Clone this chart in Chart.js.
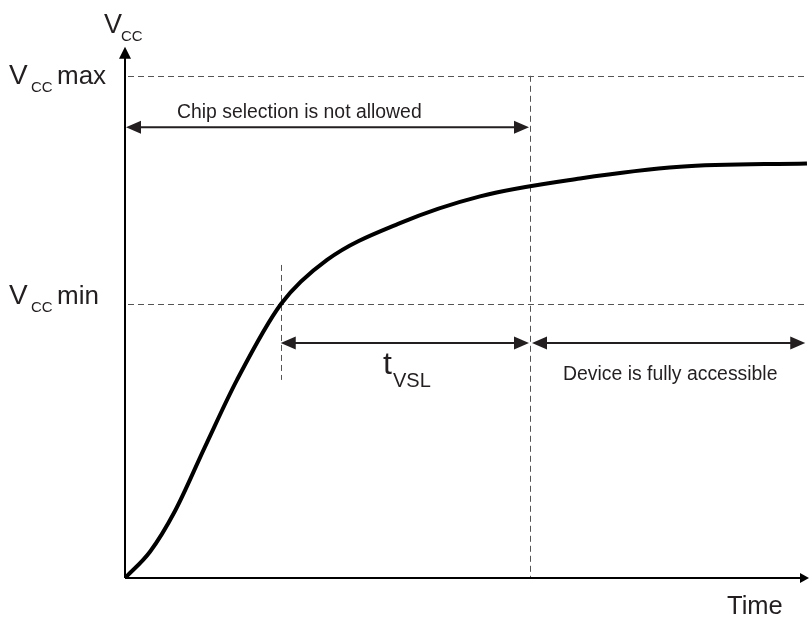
<!DOCTYPE html>
<html>
<head>
<meta charset="utf-8">
<script src="https://cdn.jsdelivr.net/npm/chart.js@4.4.1/dist/chart.umd.min.js"></script>
<style>
  html, body { margin: 0; padding: 0; background: #fff; }
  canvas { display: block; }
</style>
</head>
<body>
<canvas id="vccChart" width="809" height="617"></canvas>
<script>
// power-up curve (time and Vcc in arbitrary units)
const timeValues = [0, 0.366, 0.732, 1.171, 1.640, 2.284, 2.958, 4.026, 5.198, 6.662, 8.126, 9.985];
const vccValues = [0, 0.47, 1.20, 2.35, 3.55, 4.91, 5.70, 6.36, 6.84, 7.16, 7.37, 7.43];

// reference levels and markers
const vccMax = 9.0;
const vccMin = 4.91;
const tVslStart = 2.28;
const tVslEnd = 5.93;
const timeEnd = 9.96;
const chipArrowLevel = 8.08;
const tVslArrowLevel = 4.21;
const tickTop = 5.61;
const tickBottom = 3.55;
const yAxisTop = 9.52;

const INK = "#231f20";
const FONT = "'Liberation Sans', Arial, sans-serif";

function arrowHead(ctx, x, y, dir, len, half) {
    // dir: "left", "right", "up"
    ctx.beginPath();
    if (dir === "right") {
        ctx.moveTo(x, y);
        ctx.lineTo(x - len, y - half);
        ctx.lineTo(x - len, y + half);
    } else if (dir === "left") {
        ctx.moveTo(x, y);
        ctx.lineTo(x + len, y - half);
        ctx.lineTo(x + len, y + half);
    } else {
        ctx.moveTo(x, y);
        ctx.lineTo(x - half, y + len);
        ctx.lineTo(x + half, y + len);
    }
    ctx.closePath();
    ctx.fill();
}

function dimArrow(ctx, x1, x2, y) {
    ctx.strokeStyle = INK;
    ctx.fillStyle = INK;
    ctx.lineWidth = 2;
    ctx.beginPath();
    ctx.moveTo(x1 + 6, y);
    ctx.lineTo(x2 - 6, y);
    ctx.stroke();
    arrowHead(ctx, x1, y, "left", 15, 6.5);
    arrowHead(ctx, x2, y, "right", 15, 6.5);
}

function text(ctx, str, x, y, size, align) {
    ctx.font = size + "px " + FONT;
    ctx.fillStyle = INK;
    ctx.textAlign = align || "left";
    ctx.textBaseline = "alphabetic";
    ctx.fillText(str, x, y);
}

const guides = {
    id: "guides",
    beforeDatasetsDraw(chart) {
        const { ctx, scales: { x, y } } = chart;
        ctx.save();
        ctx.strokeStyle = "#555";
        ctx.lineWidth = 1;
        ctx.setLineDash([6, 4]);

        const x0 = x.getPixelForValue(0);
        const xEnd = x.getPixelForValue(timeEnd);
        const xV = x.getPixelForValue(tVslEnd);
        const xT = x.getPixelForValue(tVslStart);

        [vccMax, vccMin].forEach(v => {
            const py = Math.round(y.getPixelForValue(v)) + 0.5;
            ctx.beginPath();
            ctx.moveTo(x0 + 3, py);
            ctx.lineTo(xEnd, py);
            ctx.stroke();
        });

        ctx.beginPath();
        ctx.moveTo(Math.round(xV) + 0.5, y.getPixelForValue(vccMax));
        ctx.lineTo(Math.round(xV) + 0.5, y.getPixelForValue(0));
        ctx.stroke();

        ctx.beginPath();
        ctx.moveTo(Math.round(xT) + 0.5, y.getPixelForValue(tickTop));
        ctx.lineTo(Math.round(xT) + 0.5, y.getPixelForValue(tickBottom));
        ctx.stroke();
        ctx.restore();
    },
    afterDatasetsDraw(chart) {
        const { ctx, scales: { x, y } } = chart;
        ctx.save();
        const x0 = x.getPixelForValue(0);
        const y0 = y.getPixelForValue(0);
        const yTop = y.getPixelForValue(yAxisTop);
        const xRight = chart.chartArea.right + 1;

        // axes
        ctx.strokeStyle = "#000";
        ctx.fillStyle = "#000";
        ctx.lineWidth = 2;
        ctx.beginPath();
        ctx.moveTo(x0, y0);
        ctx.lineTo(x0, yTop + 8);
        ctx.moveTo(x0, y0);
        ctx.lineTo(xRight - 6, y0);
        ctx.stroke();
        arrowHead(ctx, x0, yTop, "up", 12, 6);
        arrowHead(ctx, xRight, y0, "right", 9, 5);

        // dimension arrows
        const xT = x.getPixelForValue(tVslStart);
        const xV = x.getPixelForValue(tVslEnd);
        const xEnd = x.getPixelForValue(timeEnd);
        dimArrow(ctx, x0 + 1, xV - 1, y.getPixelForValue(chipArrowLevel));
        dimArrow(ctx, xT, xV - 1, y.getPixelForValue(tVslArrowLevel));
        dimArrow(ctx, xV + 2, xEnd, y.getPixelForValue(tVslArrowLevel));

        // labels
        text(ctx, "Chip selection is not allowed", 177, 118, 19.4);
        text(ctx, "Device is fully accessible", 563, 380, 19.4);
        text(ctx, "Time", 727, 614, 25.5);

        text(ctx, "V", 104, 33, 27);
        text(ctx, "CC", 121, 41, 15);

        text(ctx, "V", 9, 84, 28);
        text(ctx, "CC", 31, 92, 15);
        text(ctx, "max", 57, 84, 26);

        text(ctx, "V", 9, 304, 28);
        text(ctx, "CC", 31, 312, 15);
        text(ctx, "min", 57, 304, 26);

        text(ctx, "t", 383, 374, 32);
        text(ctx, "VSL", 393, 387, 20);
        ctx.restore();
    }
};

const points = timeValues.map((t, i) => ({ x: t, y: vccValues[i] }));

new Chart(document.getElementById("vccChart"), {
    type: "line",
    data: {
        datasets: [{
            data: points,
            borderColor: "#000",
            borderWidth: 4,
            pointRadius: 0,
            fill: false,
            cubicInterpolationMode: "monotone"
        }]
    },
    options: {
        responsive: false,
        animation: false,
        layout: { padding: { left: 125, right: 1, top: 20, bottom: 39 } },
        plugins: { legend: { display: false }, tooltip: { enabled: false } },
        scales: {
            x: { type: "linear", min: 0, max: 10, display: false },
            y: { type: "linear", min: 0, max: 10, display: false }
        }
    },
    plugins: [guides]
});
</script>
</body>
</html>
